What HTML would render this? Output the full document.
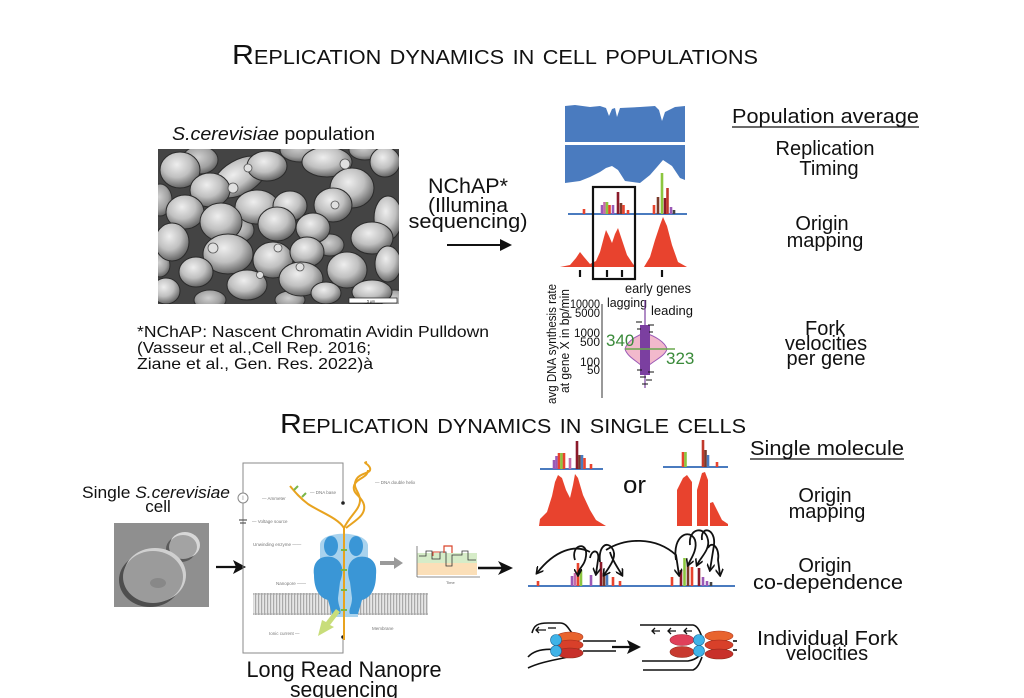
<!DOCTYPE html>
<html><head><meta charset="utf-8"><style>
html,body{margin:0;padding:0;background:#fff;}
svg{display:block;}
text{font-family:"Liberation Sans",Arial,sans-serif;fill:#111;}
</style></head><body>
<svg width="1024" height="698" viewBox="0 0 1024 698" xmlns="http://www.w3.org/2000/svg">
<defs>
<radialGradient id="cg" cx="42%" cy="35%" r="65%">
<stop offset="0%" stop-color="#eeeeee"/><stop offset="55%" stop-color="#c0c0c0"/><stop offset="100%" stop-color="#656565"/>
</radialGradient>
<radialGradient id="cg2" cx="45%" cy="40%" r="65%">
<stop offset="0%" stop-color="#d0d0d0"/><stop offset="60%" stop-color="#a0a0a0"/><stop offset="100%" stop-color="#555"/>
</radialGradient>
<clipPath id="mc"><rect x="158" y="149" width="241" height="155"/></clipPath>
<clipPath id="sc"><rect x="114" y="523" width="95" height="84"/></clipPath>
<pattern id="mem" width="3" height="22" patternUnits="userSpaceOnUse">
<rect width="3" height="22" fill="#e6e6e6"/><rect x="0" width="1.2" height="22" fill="#a9a9a9"/>
</pattern>
<marker id="ah" markerWidth="8" markerHeight="8" refX="6" refY="4" orient="auto" markerUnits="userSpaceOnUse">
<path d="M0,0 L7,4 L0,8" fill="none" stroke="#111" stroke-width="1.6"/></marker>
</defs>

<!-- Titles -->
<text x="232" y="64" font-size="28" style="font-variant:small-caps" textLength="526" lengthAdjust="spacingAndGlyphs">Replication dynamics in cell populations</text>
<text x="280" y="433" font-size="28" style="font-variant:small-caps" textLength="466" lengthAdjust="spacingAndGlyphs">Replication dynamics in single cells</text>

<!-- Population label -->
<text x="172" y="140" font-size="18" textLength="203" lengthAdjust="spacingAndGlyphs"><tspan font-style="italic">S.cerevisiae</tspan> population</text>

<!-- Micrograph -->
<g clip-path="url(#mc)">
<rect x="158" y="149" width="241" height="155" fill="#444"/>
<g fill="url(#cg2)" stroke="#2e2e2e" stroke-width="1">
<ellipse cx="200" cy="160" rx="18" ry="14"/><ellipse cx="300" cy="150" rx="20" ry="12"/>
<ellipse cx="365" cy="150" rx="16" ry="10"/><ellipse cx="160" cy="200" rx="12" ry="16"/>
<ellipse cx="240" cy="230" rx="14" ry="12"/><ellipse cx="330" cy="245" rx="14" ry="11"/>
<ellipse cx="210" cy="300" rx="16" ry="10"/><ellipse cx="395" cy="300" rx="14" ry="10"/>
<ellipse cx="290" cy="300" rx="15" ry="9"/><ellipse cx="160" cy="265" rx="10" ry="12"/>
</g>
<g fill="url(#cg)" stroke="#2a2a2a" stroke-width="1">
<ellipse cx="180" cy="170" rx="20" ry="18"/>
<ellipse cx="240" cy="177" rx="30" ry="17" transform="rotate(-30 240 177)"/>
<ellipse cx="210" cy="190" rx="20" ry="17"/>
<ellipse cx="267" cy="166" rx="20" ry="15"/>
<ellipse cx="327" cy="162" rx="25" ry="15"/>
<ellipse cx="352" cy="188" rx="22" ry="20"/>
<ellipse cx="385" cy="162" rx="15" ry="15"/>
<ellipse cx="257" cy="207" rx="22" ry="17"/>
<ellipse cx="290" cy="206" rx="17" ry="15"/>
<ellipse cx="333" cy="205" rx="19" ry="17"/>
<ellipse cx="388" cy="218" rx="14" ry="22"/>
<ellipse cx="185" cy="212" rx="19" ry="17"/>
<ellipse cx="221" cy="222" rx="21" ry="19"/>
<ellipse cx="277" cy="224" rx="19" ry="17"/>
<ellipse cx="313" cy="228" rx="17" ry="15"/>
<ellipse cx="372" cy="238" rx="21" ry="16"/>
<ellipse cx="172" cy="242" rx="17" ry="19"/>
<ellipse cx="228" cy="254" rx="25" ry="20"/>
<ellipse cx="273" cy="260" rx="20" ry="18"/>
<ellipse cx="307" cy="252" rx="17" ry="15"/>
<ellipse cx="347" cy="270" rx="20" ry="18"/>
<ellipse cx="388" cy="264" rx="13" ry="18"/>
<ellipse cx="196" cy="272" rx="17" ry="15"/>
<ellipse cx="301" cy="279" rx="22" ry="17"/>
<ellipse cx="247" cy="285" rx="20" ry="15"/>
<ellipse cx="166" cy="291" rx="14" ry="13"/>
<ellipse cx="372" cy="292" rx="20" ry="12"/>
<ellipse cx="326" cy="293" rx="15" ry="11"/>
</g>
<g fill="#e0e0e0" stroke="#555" stroke-width="0.8">
<circle cx="233" cy="188" r="5"/><circle cx="248" cy="168" r="4"/><circle cx="345" cy="164" r="5"/>
<circle cx="213" cy="248" r="5"/><circle cx="278" cy="248" r="4"/><circle cx="300" cy="267" r="4"/>
<circle cx="260" cy="275" r="3.5"/><circle cx="335" cy="205" r="4"/>
</g>
<rect x="349" y="298" width="48" height="5" fill="#fff" stroke="#222" stroke-width="0.7"/>
<text x="371" y="302.5" font-size="3.5" text-anchor="middle">5 µm</text>
</g>

<!-- NChAP arrow -->
<text x="468" y="193" font-size="21" text-anchor="middle" textLength="80" lengthAdjust="spacingAndGlyphs">NChAP*</text>
<text x="468" y="212" font-size="20" text-anchor="middle" textLength="80" lengthAdjust="spacingAndGlyphs">(Illumina</text>
<text x="468" y="228" font-size="20" text-anchor="middle" textLength="119" lengthAdjust="spacingAndGlyphs">sequencing)</text>
<line x1="447" y1="245" x2="504" y2="245" stroke="#111" stroke-width="2"/>
<path d="M512,245 L500,239 L500,251 Z" fill="#111"/>

<!-- Footnote -->
<text x="137" y="337" font-size="16" textLength="352" lengthAdjust="spacingAndGlyphs">*NChAP: Nascent Chromatin Avidin Pulldown</text>
<text x="137" y="353" font-size="16" textLength="234" lengthAdjust="spacingAndGlyphs">(Vasseur et al.,Cell Rep. 2016;</text>
<text x="137" y="369" font-size="16" textLength="236" lengthAdjust="spacingAndGlyphs">Ziane et al., Gen. Res. 2022)à</text>

<!-- Replication timing bands -->
<path d="M565,106 L575,105 L590,107 L600,106 L606,108 L609,116 L612,109 L615,108 L617,117 L620,108 L640,107 L655,106 L659,110 L662,121 L665,112 L675,107 L685,106 L685,142 L565,142 Z" fill="#4a7bbf"/>
<path d="M565,145 L685,145 L685,180 L680,178 L672,166 L663,160 L657,167 L650,175 L640,183 L625,181 L618,170 L612,166 L606,168 L600,172 L590,177 L580,181 L565,183 Z" fill="#4a7bbf"/>

<!-- bars population -->
<line x1="568" y1="214" x2="687" y2="214" stroke="#4a7bbf" stroke-width="2"/>
<g stroke-width="2.6">
<line x1="584" y1="214" x2="584" y2="209" stroke="#e8432e"/>
<line x1="602" y1="214" x2="602" y2="205" stroke="#9b59b6"/>
<line x1="604.5" y1="214" x2="604.5" y2="202" stroke="#c86aa8"/>
<line x1="607" y1="214" x2="607" y2="202" stroke="#8cc63f"/>
<line x1="609.5" y1="214" x2="609.5" y2="205" stroke="#e8432e"/>
<line x1="613" y1="214" x2="613" y2="205" stroke="#9b59b6"/>
<line x1="618" y1="214" x2="618" y2="192" stroke="#8b1a2a"/>
<line x1="621" y1="214" x2="621" y2="203" stroke="#7a3a2a"/>
<line x1="623.5" y1="214" x2="623.5" y2="205" stroke="#e8432e"/>
<line x1="628" y1="214" x2="628" y2="210" stroke="#e8432e"/>
<line x1="654" y1="214" x2="654" y2="205" stroke="#e8432e"/>
<line x1="658" y1="214" x2="658" y2="197" stroke="#7a3a2a"/>
<line x1="662" y1="214" x2="662" y2="173" stroke="#8cc63f"/>
<line x1="665" y1="214" x2="665" y2="198" stroke="#8b1a2a"/>
<line x1="667.5" y1="214" x2="667.5" y2="188" stroke="#c0392b"/>
<line x1="671" y1="214" x2="671" y2="207" stroke="#9b59b6"/>
<line x1="674" y1="214" x2="674" y2="210" stroke="#444"/>
</g>

<!-- red origin peaks -->
<path d="M560,267 L570,265 L576,258 L580,252 L584,257 L590,264 L596,261 L600,252 L604,237 L606,230 L609,236 L612,243 L615,234 L618,228 L622,240 L627,255 L633,264 L636,267 L644,267 L650,257 L655,240 L660,225 L663,217 L667,226 L672,245 L678,262 L687,267 Z" fill="#e8432e"/>
<g stroke="#111" stroke-width="2.2">
<line x1="580" y1="270" x2="580" y2="277"/><line x1="607" y1="270" x2="607" y2="277"/>
<line x1="622" y1="270" x2="622" y2="277"/><line x1="662" y1="270" x2="662" y2="277"/>
</g>
<rect x="593" y="187" width="42" height="92" fill="none" stroke="#111" stroke-width="2.2"/>

<!-- Fork velocity violin -->
<text x="625" y="293" font-size="14" textLength="66" lengthAdjust="spacingAndGlyphs">early genes</text>
<text x="556" y="344" font-size="13" text-anchor="middle" transform="rotate(-90 556 344)" textLength="120" lengthAdjust="spacingAndGlyphs">avg DNA synthesis rate</text>
<text x="569" y="341" font-size="13" text-anchor="middle" transform="rotate(-90 569 341)" textLength="104" lengthAdjust="spacingAndGlyphs">at gene X in bp/min</text>
<line x1="602" y1="304" x2="602" y2="398" stroke="#333" stroke-width="1"/>
<g font-size="12" text-anchor="end">
<text x="600" y="308" textLength="30" lengthAdjust="spacingAndGlyphs">10000</text><text x="600" y="317" textLength="25" lengthAdjust="spacingAndGlyphs">5000</text>
<text x="600" y="337" textLength="26" lengthAdjust="spacingAndGlyphs">1000</text><text x="600" y="346" textLength="20" lengthAdjust="spacingAndGlyphs">500</text>
<text x="600" y="366" textLength="20" lengthAdjust="spacingAndGlyphs">100</text><text x="600" y="374" textLength="13" lengthAdjust="spacingAndGlyphs">50</text>
</g>
<text x="607" y="307" font-size="13" textLength="40" lengthAdjust="spacingAndGlyphs">lagging</text>
<text x="651" y="315" font-size="13" textLength="42" lengthAdjust="spacingAndGlyphs">leading</text>
<path d="M645,333 C655,336 665,342 667,349 C665,356 655,360 648,366 L642,366 C635,360 627,356 625,349 C627,342 635,336 645,333 Z" fill="#f2b9cc" stroke="#9b59b6" stroke-width="1"/>
<line x1="645" y1="300" x2="645" y2="388" stroke="#7b3fa0" stroke-width="1.2"/>
<rect x="640" y="325" width="10" height="50" fill="#7b3fa0"/>
<g stroke="#111" stroke-width="1">
<line x1="636" y1="322" x2="642" y2="322"/><line x1="648" y1="325" x2="654" y2="325"/><line x1="637" y1="329" x2="641" y2="329"/>
<line x1="649" y1="332" x2="653" y2="332"/><line x1="637" y1="370" x2="642" y2="370"/><line x1="648" y1="372" x2="654" y2="372"/>
<line x1="640" y1="377" x2="646" y2="377"/><line x1="646" y1="380" x2="652" y2="380"/><line x1="642" y1="384" x2="648" y2="384"/>
</g>
<line x1="625" y1="349" x2="675" y2="349" stroke="#6aa84f" stroke-width="1.5"/>
<text x="606" y="346" font-size="17" style="fill:#3a8a3a">340</text>
<text x="666" y="364" font-size="17" style="fill:#3a8a3a">323</text>

<!-- Right column labels top -->
<text x="732" y="123" font-size="20" textLength="187" lengthAdjust="spacingAndGlyphs">Population average</text>
<line x1="732" y1="127" x2="919" y2="127" stroke="#111" stroke-width="1.3"/>
<g font-size="20" text-anchor="middle">
<text x="825" y="155">Replication</text><text x="829" y="175">Timing</text>
<text x="822" y="230">Origin</text><text x="825" y="247">mapping</text>
<text x="825" y="335">Fork</text><text x="826" y="350">velocities</text><text x="826" y="365">per gene</text>
</g>

<!-- Single cell -->
<text x="82" y="498" font-size="17" textLength="148" lengthAdjust="spacingAndGlyphs">Single <tspan font-style="italic">S.cerevisiae</tspan></text>
<text x="158" y="512" font-size="17" text-anchor="middle">cell</text>
<g clip-path="url(#sc)">
<rect x="114" y="523" width="95" height="84" fill="#8f8f8f"/>
<ellipse cx="181" cy="549" rx="15" ry="13" fill="#5a5a5a"/>
<ellipse cx="185" cy="545" rx="15" ry="13" fill="#d8d8d8"/>
<ellipse cx="183" cy="547" rx="14" ry="12" fill="#a3a3a3"/>
<ellipse cx="150" cy="580" rx="31" ry="27" fill="#4e4e4e"/>
<ellipse cx="155" cy="575" rx="31" ry="27" fill="#d0d0d0"/>
<ellipse cx="153" cy="577" rx="30" ry="26" fill="#9b9b9b"/>
<ellipse cx="158" cy="583" rx="8" ry="5" fill="#888"/>
</g>
<line x1="216" y1="567" x2="236" y2="567" stroke="#111" stroke-width="2.2"/>
<path d="M246,567 L233,560 L236,567 L233,574 Z" fill="#111"/>

<!-- Nanopore diagram -->
<g stroke="#8a8a8a" stroke-width="1" fill="none">
<path d="M343,503 L343,463 L243,463 L243,653 L343,653 L343,637"/>
</g>
<circle cx="343" cy="503" r="1.8" fill="#222"/><circle cx="343" cy="637" r="1.8" fill="#222"/>
<circle cx="243" cy="498" r="5" fill="#fff" stroke="#888"/>
<text x="243" y="500" font-size="6" text-anchor="middle" style="fill:#888">I</text>
<line x1="239" y1="520" x2="247" y2="520" stroke="#555" stroke-width="1.2"/>
<line x1="240" y1="523" x2="246" y2="523" stroke="#555" stroke-width="1.2"/>
<g font-size="4.5">
<text x="262" y="500" style="fill:#777">— Ammeter</text>
<text x="252" y="523" style="fill:#777">— Voltage source</text>
<text x="253" y="546" style="fill:#777">Unwinding enzyme ——</text>
<text x="276" y="585" style="fill:#777">Nanopore ——</text>
<text x="269" y="635" style="fill:#777">Ionic current —</text>
<text x="372" y="630" style="fill:#777">Membrane</text>
<text x="310" y="494" style="fill:#777">— DNA base</text>
<text x="375" y="484" style="fill:#777">— DNA double helix</text>
</g>
<rect x="253" y="593" width="175" height="22" fill="url(#mem)"/>
<line x1="253" y1="594" x2="428" y2="594" stroke="#bbb" stroke-width="2" stroke-dasharray="1.5 1.5"/>
<line x1="253" y1="614" x2="428" y2="614" stroke="#bbb" stroke-width="2" stroke-dasharray="1.5 1.5"/>
<!-- pore -->
<path d="M320,545 C320,530 366,530 368,545 L368,580 L358,585 L358,617 L331,617 L331,585 L320,580 Z" fill="#a9d3ee"/>
<ellipse cx="331" cy="546" rx="7" ry="10" fill="#3a96d6"/>
<ellipse cx="356" cy="546" rx="7" ry="10" fill="#3a96d6"/>
<path d="M314,575 C312,560 322,555 332,557 C342,560 345,570 340,582 L338,598 C338,606 342,610 340,614 L332,614 L328,600 C320,598 314,590 314,575 Z" fill="#3a96d6"/>
<path d="M376,575 C378,560 368,555 358,557 C348,560 346,570 350,582 L352,598 C352,606 348,610 350,614 L358,614 L362,600 C370,598 376,590 376,575 Z" fill="#3a96d6"/>
<!-- DNA -->
<g fill="none" stroke="#e8a31f" stroke-width="2">
<path d="M344,640 L344,528"/>
<path d="M344,528 C338,518 320,512 308,504 C300,498 295,492 290,486"/>
<path d="M344,528 C350,515 360,510 360,500 C360,492 352,488 356,480 C360,472 372,474 370,468 C368,463 362,463 367,462"/>
<path d="M346,528 C356,520 366,515 364,505 C362,496 352,494 354,486 C356,478 368,478 368,470"/>
</g>
<g stroke="#7ab648" stroke-width="2">
<line x1="294" y1="490" x2="298" y2="486"/><line x1="302" y1="497" x2="306" y2="493"/>
<line x1="341" y1="550" x2="347" y2="550"/><line x1="341" y1="570" x2="347" y2="570"/>
<line x1="341" y1="590" x2="347" y2="590"/><line x1="341" y1="610" x2="347" y2="610"/>
</g>
<path d="M340,612 L330,625 L334,627 L318,636 L322,620 L326,622 L336,609 Z" fill="#c8dd7a"/>
<!-- grey arrow -->
<line x1="380" y1="563" x2="395" y2="563" stroke="#9a9a9a" stroke-width="4"/>
<path d="M403,563 L394,557 L394,569 Z" fill="#9a9a9a"/>
<!-- small chart -->
<rect x="417" y="553" width="60" height="10" fill="#d6ecc8"/>
<rect x="417" y="563" width="60" height="12" fill="#fbdfb8"/>
<line x1="417" y1="546" x2="417" y2="577" stroke="#666" stroke-width="0.8"/>
<line x1="417" y1="577" x2="480" y2="577" stroke="#666" stroke-width="0.8"/>
<path d="M419,556 L426,556 L426,551 L432,551 L432,559 L440,559 L440,552 L446,552 L446,566 L452,566 L452,555 L462,555 L462,551 L468,551 L468,560 L476,560" fill="none" stroke="#333" stroke-width="0.8"/>
<path d="M444,553 L444,546 L452,546 L452,553" fill="none" stroke="#d9452b" stroke-width="1.2"/>
<path d="M433,556 L433,552 L440,552" fill="none" stroke="#d9452b" stroke-width="1"/>
<text x="446" y="584" font-size="4" style="fill:#666">Time</text>
<!-- black arrow -->
<line x1="478" y1="568" x2="502" y2="568" stroke="#111" stroke-width="2.5"/>
<path d="M513,568 L498,561 L502,568 L498,575 Z" fill="#111"/>
<text x="344" y="677" font-size="22" text-anchor="middle" textLength="195" lengthAdjust="spacingAndGlyphs">Long Read Nanopre</text>
<text x="344" y="697" font-size="22" text-anchor="middle" textLength="108" lengthAdjust="spacingAndGlyphs">sequencing</text>

<!-- Single molecule: origin mapping -->
<line x1="540" y1="469" x2="603" y2="469" stroke="#4a7bbf" stroke-width="2"/>
<g stroke-width="2.6">
<line x1="554" y1="469" x2="554" y2="460" stroke="#9b59b6"/>
<line x1="556.5" y1="469" x2="556.5" y2="456" stroke="#9b59b6"/>
<line x1="559" y1="469" x2="559" y2="453" stroke="#e8432e"/>
<line x1="561.5" y1="469" x2="561.5" y2="453" stroke="#8cc63f"/>
<line x1="564" y1="469" x2="564" y2="453" stroke="#e8432e"/>
<line x1="570" y1="469" x2="570" y2="458" stroke="#c86aa8"/>
<line x1="577" y1="469" x2="577" y2="441" stroke="#8b1a2a"/>
<line x1="579.5" y1="469" x2="579.5" y2="455" stroke="#7a3a2a"/>
<line x1="582" y1="469" x2="582" y2="455" stroke="#4a7bbf"/>
<line x1="584.5" y1="469" x2="584.5" y2="458" stroke="#e8432e"/>
<line x1="591" y1="469" x2="591" y2="464" stroke="#e8432e"/>
</g>
<path d="M539,526 L540,519 L547,512 L552,496 L555,482 L558,475 L562,478 L566,490 L570,498 L573,485 L575,474 L578,478 L583,495 L590,510 L596,520 L606,526 Z" fill="#e8432e"/>
<text x="623" y="493" font-size="24" textLength="23" lengthAdjust="spacingAndGlyphs">or</text>
<line x1="663" y1="467" x2="728" y2="467" stroke="#4a7bbf" stroke-width="2"/>
<g stroke-width="2.6">
<line x1="683" y1="467" x2="683" y2="452" stroke="#e8432e"/>
<line x1="685.5" y1="467" x2="685.5" y2="452" stroke="#8cc63f"/>
<line x1="703" y1="467" x2="703" y2="440" stroke="#c0392b"/>
<line x1="705.5" y1="467" x2="705.5" y2="450" stroke="#7a3a2a"/>
<line x1="708" y1="467" x2="708" y2="455" stroke="#4a7bbf"/>
<line x1="717" y1="467" x2="717" y2="462" stroke="#e8432e"/>
</g>
<path d="M677,526 L677,490 L683,478 L687,475 L692,482 L692,526 Z M697,526 L697,490 L702,473 L705,472 L708,480 L708,526 Z M710,526 L710,503 L713,502 L718,512 L722,520 L728,524 L728,526 Z" fill="#e8432e"/>

<!-- Origin co-dependence -->
<line x1="528" y1="586" x2="735" y2="586" stroke="#4a7bbf" stroke-width="2"/>
<g stroke-width="2.6">
<line x1="538" y1="586" x2="538" y2="581" stroke="#e8432e"/>
<line x1="572" y1="586" x2="572" y2="576" stroke="#9b59b6"/>
<line x1="575" y1="586" x2="575" y2="573" stroke="#c86aa8"/>
<line x1="578" y1="586" x2="578" y2="563" stroke="#e8432e"/>
<line x1="581" y1="586" x2="581" y2="570" stroke="#8cc63f"/>
<line x1="591" y1="586" x2="591" y2="575" stroke="#9b59b6"/>
<line x1="601" y1="586" x2="601" y2="562" stroke="#8b1a2a"/>
<line x1="604" y1="586" x2="604" y2="573" stroke="#7a3a2a"/>
<line x1="607" y1="586" x2="607" y2="575" stroke="#4a7bbf"/>
<line x1="613" y1="586" x2="613" y2="577" stroke="#e8432e"/>
<line x1="620" y1="586" x2="620" y2="581" stroke="#e8432e"/>
<line x1="672" y1="586" x2="672" y2="577" stroke="#e8432e"/>
<line x1="681" y1="586" x2="681" y2="570" stroke="#8b1a2a"/>
<line x1="684.5" y1="586" x2="684.5" y2="558" stroke="#8cc63f"/>
<line x1="688" y1="586" x2="688" y2="563" stroke="#7a3a2a"/>
<line x1="692" y1="586" x2="692" y2="567" stroke="#e8432e"/>
<line x1="699" y1="586" x2="699" y2="568" stroke="#8b1a2a"/>
<line x1="703" y1="586" x2="703" y2="577" stroke="#9b59b6"/>
<line x1="707" y1="586" x2="707" y2="581" stroke="#9b59b6"/>
<line x1="711" y1="586" x2="711" y2="582" stroke="#444"/>
</g>
<g fill="none" stroke="#111" stroke-width="1.8" marker-end="url(#ah)">
<path d="M590,552 C575,544 555,550 537,573"/>
<path d="M575,560 C570,545 588,540 586,556 C585,566 578,568 578,575"/>
<path d="M590,558 C592,548 600,550 598,560 L596,574"/>
<path d="M600,562 C598,548 606,540 612,548 C618,556 610,566 604,575"/>
<path d="M606,550 C625,538 655,536 676,555 L679,575"/>
<path d="M610,552 C612,560 618,568 622,575"/>
<path d="M676,560 C672,535 690,528 695,540 C698,550 690,560 688,565"/>
<path d="M690,545 C688,528 705,525 708,540 C710,550 700,558 697,565"/>
<path d="M702,540 C700,525 716,528 714,545 L710,570"/>
<path d="M708,548 C712,540 720,548 718,560 L720,575"/>
</g>

<!-- Fork diagrams -->
<g fill="none" stroke="#111" stroke-width="1.6">
<path d="M532,633 C534,625 538,623 548,623 L560,623 C566,623 568,628 572,633"/>
<path d="M528,657 C534,650 545,648 560,650 L570,652"/>
<path d="M528,668 C540,662 555,660 568,657"/>
<line x1="583" y1="641" x2="616" y2="641"/><line x1="583" y1="651" x2="616" y2="651"/>
<path d="M640,625 L693,625 C698,626 700,632 702,637"/>
<path d="M643,670 L693,670 C698,668 700,662 702,657"/>
<path d="M642,661 L688,661 C694,660 697,658 699,656"/>
<line x1="733" y1="641" x2="737" y2="641"/><line x1="733" y1="650" x2="737" y2="650"/>
</g>
<g fill="none" stroke="#111" stroke-width="1.3">
<path d="M546,630 L536,630 M539,627 L536,630 L539,633"/>
<path d="M556,628 L548,628"/>
<path d="M660,631 L652,631 M655,628 L652,631 L655,634"/>
<path d="M676,631 L668,631 M671,628 L668,631 L671,634"/>
<path d="M692,631 L684,631 M687,628 L684,631 L687,634"/>
</g>
<ellipse cx="570" cy="637" rx="13" ry="5" fill="#e8642e" stroke="#b03a20" stroke-width="0.6"/>
<ellipse cx="570" cy="645" rx="13" ry="5" fill="#d8402a" stroke="#a02a1a" stroke-width="0.6"/>
<ellipse cx="570" cy="653" rx="13" ry="5" fill="#c8302a" stroke="#902a1a" stroke-width="0.6"/>
<circle cx="556" cy="640" r="5.5" fill="#3fb3e8" stroke="#1a6a9a" stroke-width="0.6"/>
<circle cx="556" cy="651" r="5.5" fill="#3fb3e8" stroke="#1a6a9a" stroke-width="0.6"/>
<line x1="612" y1="647" x2="630" y2="647" stroke="#111" stroke-width="2.2"/>
<path d="M641,647 L627,640 L630,647 L627,654 Z" fill="#111"/>
<ellipse cx="682" cy="640" rx="12" ry="5.5" fill="#e0405a" stroke="#a02a3a" stroke-width="0.6"/>
<ellipse cx="682" cy="652" rx="12" ry="5.5" fill="#c83a30" stroke="#902a1a" stroke-width="0.6"/>
<ellipse cx="719" cy="636" rx="14" ry="5" fill="#e8642e" stroke="#b03a20" stroke-width="0.6"/>
<ellipse cx="719" cy="645" rx="14" ry="5" fill="#d8402a" stroke="#a02a1a" stroke-width="0.6"/>
<ellipse cx="719" cy="654" rx="14" ry="5" fill="#c8302a" stroke="#902a1a" stroke-width="0.6"/>
<circle cx="699" cy="640" r="5.5" fill="#3fb3e8" stroke="#1a6a9a" stroke-width="0.6"/>
<circle cx="699" cy="651" r="5.5" fill="#3fb3e8" stroke="#1a6a9a" stroke-width="0.6"/>

<!-- Right column labels bottom -->
<text x="750" y="455" font-size="20" textLength="154" lengthAdjust="spacingAndGlyphs">Single molecule</text>
<line x1="750" y1="459" x2="904" y2="459" stroke="#111" stroke-width="1.3"/>
<g font-size="20" text-anchor="middle">
<text x="825" y="502">Origin</text><text x="827" y="518">mapping</text>
<text x="825" y="572">Origin</text>
</g>
<text x="753" y="589" font-size="20" textLength="150" lengthAdjust="spacingAndGlyphs">co-dependence</text>
<text x="757" y="645" font-size="20" textLength="141" lengthAdjust="spacingAndGlyphs">Individual Fork</text>
<text x="827" y="660" font-size="20" text-anchor="middle">velocities</text>
</svg>
</body></html>
